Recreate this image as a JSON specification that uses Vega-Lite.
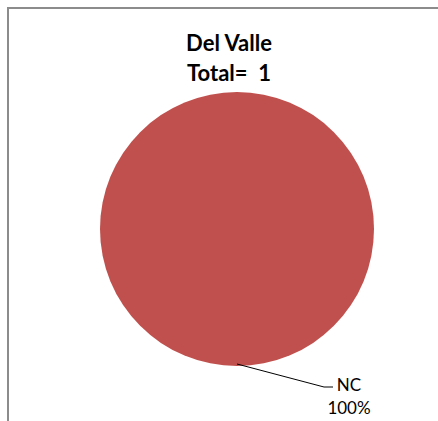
{
  "$schema": "https://vega.github.io/schema/vega-lite/v6.json",
  "width": 438,
  "height": 421,
  "padding": 0,
  "autosize": {"type": "none"},
  "background": "white",
  "config": {"view": {"stroke": null}},
  "title": {
    "text": ["Del Valle", "Total= \u00a01"],
    "font": "Lato",
    "fontSize": 22,
    "fontWeight": "bold",
    "color": "black",
    "anchor": "start",
    "align": "center",
    "baseline": "top",
    "lineHeight": 30,
    "offset": 0,
    "dx": 229,
    "dy": 86
  },
  "datasets": {
    "slices": [
      {"categoria": "NC", "cantidad": 1, "porcentaje": "100%"}
    ]
  },
  "data": {"name": "slices"},
  "layer": [
    {
      "mark": {"type": "rule", "color": "#8c8c8c", "strokeWidth": 2},
      "encoding": {"x": {"value": 8}, "y": {"value": 7}, "y2": {"value": 421}}
    },
    {
      "mark": {"type": "rule", "color": "#8c8c8c", "strokeWidth": 2},
      "encoding": {"x": {"value": 7}, "x2": {"value": 438}, "y": {"value": 8}}
    },
    {
      "mark": {"type": "arc", "x": 237, "y": 229, "outerRadius": 137},
      "encoding": {
        "theta": {"field": "cantidad", "type": "quantitative", "stack": true},
        "color": {"field": "categoria", "type": "nominal", "scale": {"range": ["#C0504D"]}, "legend": null}
      }
    },
    {
      "mark": {"type": "rule", "color": "black", "strokeWidth": 1},
      "encoding": {"x": {"value": 237}, "y": {"value": 364}, "x2": {"value": 324}, "y2": {"value": 387}}
    },
    {
      "mark": {"type": "rule", "color": "black", "strokeWidth": 1},
      "encoding": {"x": {"value": 324}, "y": {"value": 387}, "x2": {"value": 333}, "y2": {"value": 387}}
    },
    {
      "mark": {"type": "text", "font": "Lato", "fontSize": 17, "color": "black", "align": "center", "baseline": "middle", "x": 349, "y": 386},
      "encoding": {
        "text": {"field": "categoria"}
      }
    },
    {
      "mark": {"type": "text", "font": "Lato", "fontSize": 17, "color": "black", "align": "center", "baseline": "middle", "x": 349, "y": 409},
      "encoding": {
        "text": {"field": "porcentaje"}
      }
    }
  ]
}
